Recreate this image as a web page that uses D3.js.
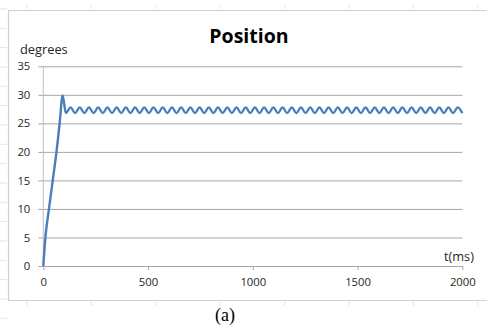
<!DOCTYPE html>
<html>
<head>
<meta charset="utf-8">
<script src="https://cdn.jsdelivr.net/npm/d3@7"></script>
<style>
  html, body { margin: 0; padding: 0; background: #fff; }
  svg { display: block; }
  text { font-family: "Open Sans", sans-serif; }
</style>
</head>
<body>
<svg id="chart" width="487" height="327"></svg>
<script>
// Position response of the servo, sampled at the corners of the trace (ms, degrees)
const timeMs = [
  0, 10, 27, 45, 63, 78, 92,
  108, 130, 152, 174, 196, 218, 240, 262, 284, 306, 328, 350, 372, 394,
  416, 438, 460, 482, 504, 526, 548, 570, 592, 614, 636, 658, 680, 702,
  724, 746, 768, 790, 812, 834, 856, 878, 900, 922, 944, 966, 988, 1010,
  1032, 1054, 1076, 1098, 1120, 1142, 1164, 1186, 1208, 1230, 1252, 1274,
  1296, 1318, 1340, 1362, 1384, 1406, 1428, 1450, 1472, 1494, 1516, 1538,
  1560, 1582, 1604, 1626, 1648, 1670, 1692, 1714, 1736, 1758, 1780, 1802,
  1824, 1846, 1868, 1890, 1912, 1934, 1956, 1978, 2000
];
const positionDeg = [
  0, 5, 10, 15, 20, 25, 29.9,
  26.8, 27.8, 26.8, 27.8, 26.8, 27.8, 26.8, 27.8, 26.8, 27.8, 26.8, 27.8, 26.8, 27.8,
  26.8, 27.8, 26.8, 27.8, 26.8, 27.8, 26.8, 27.8, 26.8, 27.8, 26.8, 27.8, 26.8, 27.8,
  26.8, 27.8, 26.8, 27.8, 26.8, 27.8, 26.8, 27.8, 26.8, 27.8, 26.8, 27.8, 26.8, 27.8,
  26.8, 27.8, 26.8, 27.8, 26.8, 27.8, 26.8, 27.8, 26.8, 27.8, 26.8, 27.8,
  26.8, 27.8, 26.8, 27.8, 26.8, 27.8, 26.8, 27.8, 26.8, 27.8, 26.8, 27.8,
  26.8, 27.8, 26.8, 27.8, 26.8, 27.8, 26.8, 27.8, 26.8, 27.8, 26.8, 27.8,
  26.8, 27.8, 26.8, 27.8, 26.8, 27.8, 26.8, 27.8, 26.8
];
const xTicks = [0, 500, 1000, 1500, 2000];
const yTicks = [0, 5, 10, 15, 20, 25, 30, 35];
const chartTitle = "Position";
const yLabel = "degrees";
const xLabel = "t(ms)";
const caption = "(a)";

const svg = d3.select("#chart");
const labelInk = "#262626";

// sheet cell-grid remnants around the chart frame
const faint = "#e4e4e4";
const sheet = svg.append("g");
sheet.selectAll(".rowmark").data(d3.range(9, 327, 19.33)).join("line")
  .attr("x1", 0).attr("x2", 7).attr("y1", d => d).attr("y2", d => d)
  .attr("stroke", faint).attr("stroke-width", 1);
sheet.selectAll(".colmarkB").data(d3.range(27, 487, 64.4)).join("line")
  .attr("x1", d => d).attr("x2", d => d).attr("y1", 301).attr("y2", 306)
  .attr("stroke", faint).attr("stroke-width", 1);
sheet.selectAll(".colmarkT").data(d3.range(27, 487, 64.4)).join("line")
  .attr("x1", d => d).attr("x2", d => d).attr("y1", 5).attr("y2", 9)
  .attr("stroke", faint).attr("stroke-width", 1);

// chart frame (runs off the right edge)
svg.append("path")
  .attr("d", "M490,10.5 H8.5 V300.5 H490")
  .attr("fill", "none").attr("stroke", "#d0d0d0").attr("stroke-width", 1.2);

const x = d3.scaleLinear().domain([0, 2000]).range([43.3, 462.3]);
const y = d3.scaleLinear().domain([0, 35]).range([266, 66.3]);

const grid = "#a6a6a6";

// horizontal gridlines with short outward ticks and labels
const yAxis = svg.append("g")
  .attr("transform", `translate(${x(0) - 5},0)`)
  .call(d3.axisLeft(y).tickValues(yTicks)
    .tickSize(-(x(2000) - x(0) + 5)).tickPadding(8).tickFormat(d3.format("d")));
yAxis.select(".domain").remove();
yAxis.selectAll(".tick line").attr("stroke", grid).attr("stroke-width", 1);
yAxis.selectAll(".tick text")
  .attr("fill", labelInk).style("font-size", "11.3px").style("font-family", "'Open Sans', sans-serif");

// vertical axis line
svg.append("line")
  .attr("x1", x(0)).attr("x2", x(0)).attr("y1", y(35)).attr("y2", y(0))
  .attr("stroke", "#bfbfbf").attr("stroke-width", 1);

// horizontal axis
const xAxis = svg.append("g")
  .attr("transform", `translate(0,${y(0)})`)
  .call(d3.axisBottom(x).tickValues(xTicks).tickSize(4).tickSizeOuter(0)
    .tickPadding(8).tickFormat(d3.format("d")));
xAxis.select(".domain").attr("stroke", grid);
xAxis.selectAll(".tick line").attr("stroke", grid);
xAxis.selectAll(".tick text")
  .attr("fill", labelInk).style("font-size", "11.3px").style("font-family", "'Open Sans', sans-serif");

// position trace
const pts = timeMs.map((t, i) => [t, positionDeg[i]]);
svg.append("path")
  .datum(pts)
  .attr("fill", "none")
  .attr("stroke", "#4a7ebb")
  .attr("stroke-width", 2.4)
  .attr("stroke-linejoin", "round")
  .attr("d", d3.line().x(d => x(d[0])).y(d => y(d[1])).curve(d3.curveMonotoneX));

// titles and labels
svg.append("text")
  .attr("x", 249).attr("y", 43).attr("text-anchor", "middle")
  .style("font-size", "19.5px").style("font-weight", "bold").attr("fill", "#000")
  .text(chartTitle);
svg.append("text")
  .attr("x", 20).attr("y", 54)
  .style("font-size", "12.8px").attr("fill", labelInk)
  .text(yLabel);
svg.append("text")
  .attr("x", 474).attr("y", 261).attr("text-anchor", "end")
  .style("font-size", "12.8px").attr("fill", labelInk)
  .text(xLabel);
svg.append("text")
  .attr("x", 225).attr("y", 321).attr("text-anchor", "middle")
  .style("font-family", "'Liberation Serif', 'Times New Roman', serif")
  .style("font-size", "18px").attr("fill", "#000")
  .text(caption);
</script>
</body>
</html>
